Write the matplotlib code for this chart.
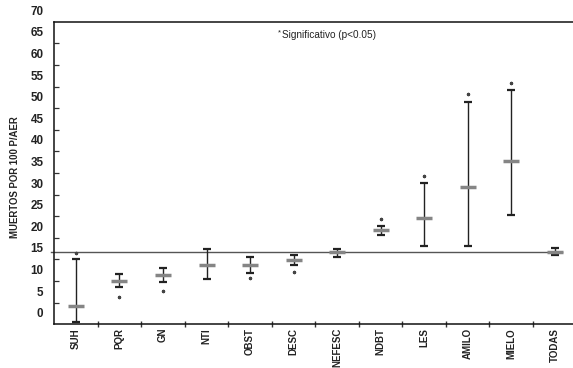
import matplotlib.pyplot as plt
import matplotlib.transforms as mtransforms

plt.rcParams["font.family"] = ["Liberation Sans", "DejaVu Sans"]

# data
categories = ["SUH", "PQR", "GN", "NTI", "OBST", "DESC", "NEFESC",
              "NDBT", "LES", "AMILO", "MIELO", "TODAS"]
means = [2.0, 7.7, 9.0, 11.4, 11.4, 12.5, 14.4, 19.4, 22.2, 29.4, 35.4, 14.5]
upper = [12.8, 9.3, 10.6, 15.1, 13.3, 13.7, 15.1, 20.4, 30.3, 49.0, 51.9, 15.3]
lower = [-1.7, 6.2, 7.5, 8.2, 9.6, 11.3, 13.3, 18.4, 15.8, 15.8, 22.9, 13.7]
# position of the "*" marks (None = not significant)
sig_y = [14.1, 4.0, 5.3, None, 8.3, 9.7, None, 22.0, 32.0, 50.9, 53.5, None]
reference = 14.5
ytick_labels = [0, 5, 10, 15, 20, 25, 30, 35, 40, 45, 50, 55, 60, 65, 70]

fig = plt.figure(figsize=(5.73, 3.68), dpi=100)
ax = fig.add_axes([0.0946, 0.1196, 0.9115, 0.8215])

x = list(range(len(categories)))
yerr = [[m - lo for m, lo in zip(means, lower)],
        [up - m for m, up in zip(means, upper)]]

ax.errorbar(x, means, yerr=yerr, fmt="none", ecolor="#222222",
            elinewidth=1.0, capsize=2.8, capthick=1.6, zorder=3)
ax.plot(x, means, ls="none", marker="_", ms=12, mew=2.5,
        color="#858585", zorder=4)

sx = [i for i, s in zip(x, sig_y) if s is not None]
sy = [s for s in sig_y if s is not None]
ax.plot(sx, sy, ls="none", marker=(6, 2, 0), ms=2.4, mew=0.9,
        color="#444444", zorder=4)

# reference line for all causes
ax.plot([-0.58, 11.17], [reference, reference], color="#555555",
        lw=1.0, clip_on=False, zorder=2)

ax.set_xlim(-0.5, len(categories) - 0.5)
ax.set_ylim(-2.25, 67.7)

ax.spines["right"].set_visible(False)
for s in ["left", "bottom", "top"]:
    ax.spines[s].set_linewidth(1.1)
    ax.spines[s].set_color("#111111")

# category tick marks sit between the categories
ax.set_xticks([i + 0.5 for i in x[:-1]])
ax.set_xticklabels([])
ax.tick_params(axis="x", direction="inout", length=5, width=1.0,
               color="#333333")
for i, c in zip(x, categories):
    ax.text(i, -0.013, c, rotation=90, ha="center", va="top",
            fontsize=7, fontweight="bold", color="#222222",
            transform=mtransforms.blended_transform_factory(ax.transData,
                                                            ax.transAxes))

ax.set_yticks([2.7 + 5 * k for k in range(13)])
ax.set_yticklabels([])
ax.tick_params(axis="y", direction="in", length=3.5, width=0.9,
               color="#333333")
ytrans = mtransforms.blended_transform_factory(ax.transAxes, ax.transData)
for v in ytick_labels:
    ax.text(-0.0205, v, str(v), ha="right", va="center", fontsize=8.4,
            fontweight="bold", color="#222222", transform=ytrans,
            clip_on=False)

fig.text(15 / 573, 1 - 177 / 368, "MUERTOS POR 100 P/AER", rotation=90,
         ha="center", va="center", fontsize=6.9, fontweight="bold",
         color="#222222")

ax.text(0.4356, 0.957, "Significativo (p<0.05)", transform=ax.transAxes,
        ha="left", va="center", fontsize=7.2, color="#222222")
ax.text(0.4315, 0.962, "*", transform=ax.transAxes, ha="center",
        va="center", fontsize=5.5, color="#222222")

fig.savefig("out.png", dpi=100)
